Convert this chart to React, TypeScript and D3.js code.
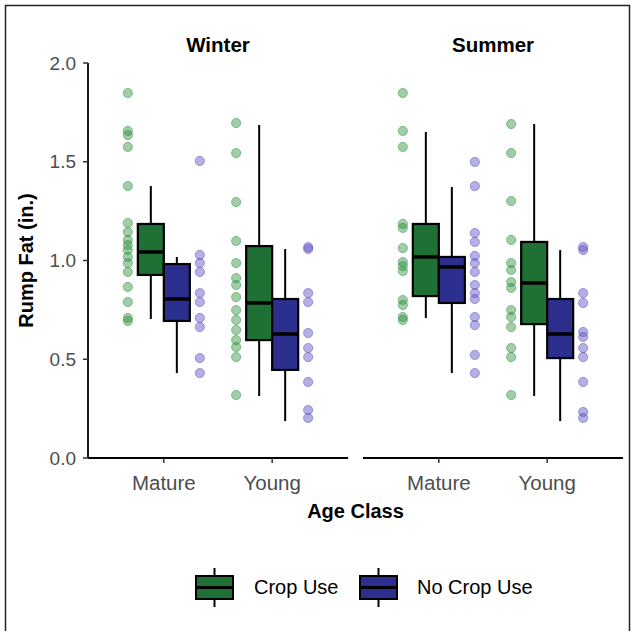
import React from "react";
import * as d3 from "d3";

// categories
const seasons = ["Winter", "Summer"];
const ageClasses = ["Mature", "Young"];
const groups = ["Crop Use", "No Crop Use"];
const yTicks = [0, 0.5, 1, 1.5, 2];

// box stats per age class: [lower whisker, q1, median, q3, upper whisker]
const winterCropStats = [
  [0.704, 0.927, 1.043, 1.185, 1.377],
  [0.314, 0.597, 0.785, 1.073, 1.686],
];
const winterNoCropStats = [
  [0.43, 0.694, 0.805, 0.982, 1.018],
  [0.187, 0.446, 0.628, 0.805, 1.058],
];
const summerCropStats = [
  [0.709, 0.82, 1.018, 1.185, 1.651],
  [0.314, 0.678, 0.886, 1.094, 1.691],
];
const summerNoCropStats = [
  [0.43, 0.785, 0.967, 1.018, 1.372],
  [0.187, 0.506, 0.628, 0.805, 1.053],
];

// raw observations
const winterMatureCrop = [1.848, 1.656, 1.635, 1.575, 1.377, 1.19, 1.144, 1.104, 1.078, 1.053, 1.018, 0.987, 0.942, 0.866, 0.79, 0.709, 0.694];
const winterMatureNoCrop = [1.504, 1.028, 0.987, 0.942, 0.835, 0.79, 0.709, 0.663, 0.506, 0.43];
const winterYoungCrop = [1.696, 1.544, 1.296, 1.099, 0.987, 0.911, 0.876, 0.815, 0.749, 0.699, 0.648, 0.597, 0.562, 0.511, 0.319];
const winterYoungNoCrop = [1.068, 1.058, 0.835, 0.79, 0.633, 0.557, 0.511, 0.385, 0.243, 0.203];
const summerMatureCrop = [1.848, 1.656, 1.575, 1.185, 1.165, 1.063, 0.992, 0.972, 0.947, 0.8, 0.775, 0.714, 0.699];
const summerMatureNoCrop = [1.499, 1.377, 1.139, 1.094, 1.023, 0.987, 0.942, 0.876, 0.835, 0.805, 0.714, 0.673, 0.522, 0.43];
const summerYoungCrop = [1.691, 1.544, 1.301, 1.104, 0.987, 0.952, 0.891, 0.861, 0.749, 0.714, 0.663, 0.557, 0.511, 0.319];
const summerYoungNoCrop = [1.068, 1.053, 0.835, 0.785, 0.638, 0.613, 0.557, 0.511, 0.385, 0.233, 0.203];

const boxFill = ["#1e7035", "#2c2f8e"];
const pointFill = ["#2f9140", "#5a4fc4"];
const font = "'Liberation Sans', Arial, sans-serif";

const panels = [
  {
    season: seasons[0],
    range: [88, 348],
    stats: [winterCropStats, winterNoCropStats],
    points: [
      [winterMatureCrop, winterYoungCrop],
      [winterMatureNoCrop, winterYoungNoCrop],
    ],
  },
  {
    season: seasons[1],
    range: [363, 623],
    stats: [summerCropStats, summerNoCropStats],
    points: [
      [summerMatureCrop, summerYoungCrop],
      [summerMatureNoCrop, summerYoungNoCrop],
    ],
  },
];

function BoxKey({ x, y, fill }: { x: number; y: number; fill: string }) {
  const w = 37;
  const h = 23;
  return (
    <g>
      <line x1={x + w / 2} x2={x + w / 2} y1={y - 8} y2={y + h + 8} stroke="#000" strokeWidth={2} />
      <rect x={x} y={y} width={w} height={h} fill={fill} stroke="#000" strokeWidth={2} />
      <line x1={x} x2={x + w} y1={y + h / 2} y2={y + h / 2} stroke="#000" strokeWidth={3} />
    </g>
  );
}

export default function App() {
  const width = 633;
  const height = 631;
  const y = d3.scaleLinear().domain([0, 2]).range([458, 63]);
  const boxW = 26;
  const ptOff = 36;

  return (
    <svg
      width={width}
      height={height}
      style={{ position: "absolute", left: 0, top: 0, background: "#fff" }}
      fontFamily={font}
    >
      <rect x={5.5} y={5.5} width={624} height={640} fill="#fff" stroke="#222" strokeWidth={1.5} />

      {/* y axis */}
      <line x1={88} x2={88} y1={y(2)} y2={y(0)} stroke="#000" strokeWidth={1.8} />
      {yTicks.map((t) => (
        <g key={t}>
          <line x1={83} x2={88} y1={y(t)} y2={y(t)} stroke="#333" strokeWidth={1.5} />
          <text x={76} y={y(t)} dy="0.35em" textAnchor="end" fontSize={19} fill="#4d4d4d">
            {d3.format(".1f")(t)}
          </text>
        </g>
      ))}
      <text
        transform={`translate(33,${(y(0) + y(2)) / 2}) rotate(-90)`}
        textAnchor="middle"
        fontSize={20}
        fontWeight="bold"
        fill="#000"
      >
        Rump Fat (in.)
      </text>

      {panels.map((p) => {
        const x = d3.scalePoint<string>().domain(ageClasses).range(p.range as [number, number]).padding(0.7);
        const mid = (p.range[0] + p.range[1]) / 2;
        return (
          <g key={p.season}>
            <text x={mid} y={52} textAnchor="middle" fontSize={20.5} fontWeight="bold" fill="#000">
              {p.season}
            </text>
            <line x1={p.range[0]} x2={p.range[1]} y1={y(0)} y2={y(0)} stroke="#000" strokeWidth={1.8} />
            {ageClasses.map((a) => (
              <g key={a}>
                <line x1={x(a)} x2={x(a)} y1={y(0)} y2={y(0) + 5} stroke="#333" strokeWidth={1.5} />
                <text x={x(a)} y={490} textAnchor="middle" fontSize={20.5} fill="#4d4d4d">
                  {a}
                </text>
              </g>
            ))}
            {groups.map((g, gi) =>
              ageClasses.map((a, ai) => {
                const cx = x(a)!;
                const px = gi === 0 ? cx - ptOff : cx + ptOff;
                return (
                  <g key={g + a}>
                    {p.points[gi][ai].map((v, i) => (
                      <circle
                        key={i}
                        cx={px}
                        cy={y(v)}
                        r={4.6}
                        fill={pointFill[gi]}
                        fillOpacity={0.45}
                        stroke={pointFill[gi]}
                        strokeOpacity={0.5}
                        strokeWidth={1}
                      />
                    ))}
                  </g>
                );
              })
            )}
            {groups.map((g, gi) =>
              ageClasses.map((a, ai) => {
                const [lo, q1, med, q3, hi] = p.stats[gi][ai];
                const cx = x(a)!;
                const x0 = gi === 0 ? cx - boxW : cx;
                const bc = x0 + boxW / 2;
                return (
                  <g key={"b" + g + a}>
                    <line x1={bc} x2={bc} y1={y(hi)} y2={y(q3)} stroke="#000" strokeWidth={2} />
                    <line x1={bc} x2={bc} y1={y(q1)} y2={y(lo)} stroke="#000" strokeWidth={2} />
                    <rect
                      x={x0}
                      y={y(q3)}
                      width={boxW}
                      height={y(q1) - y(q3)}
                      fill={boxFill[gi]}
                      stroke="#000"
                      strokeWidth={2.2}
                    />
                    <line x1={x0} x2={x0 + boxW} y1={y(med)} y2={y(med)} stroke="#000" strokeWidth={3.5} />
                  </g>
                );
              })
            )}
          </g>
        );
      })}

      <text x={355.5} y={518} textAnchor="middle" fontSize={20} fontWeight="bold" fill="#000">
        Age Class
      </text>

      {/* legend */}
      <BoxKey x={196} y={576} fill={boxFill[0]} />
      <text x={254} y={594} fontSize={20} fill="#000">
        {groups[0]}
      </text>
      <BoxKey x={360} y={576} fill={boxFill[1]} />
      <text x={417} y={594} fontSize={20} fill="#000">
        {groups[1]}
      </text>
    </svg>
  );
}
